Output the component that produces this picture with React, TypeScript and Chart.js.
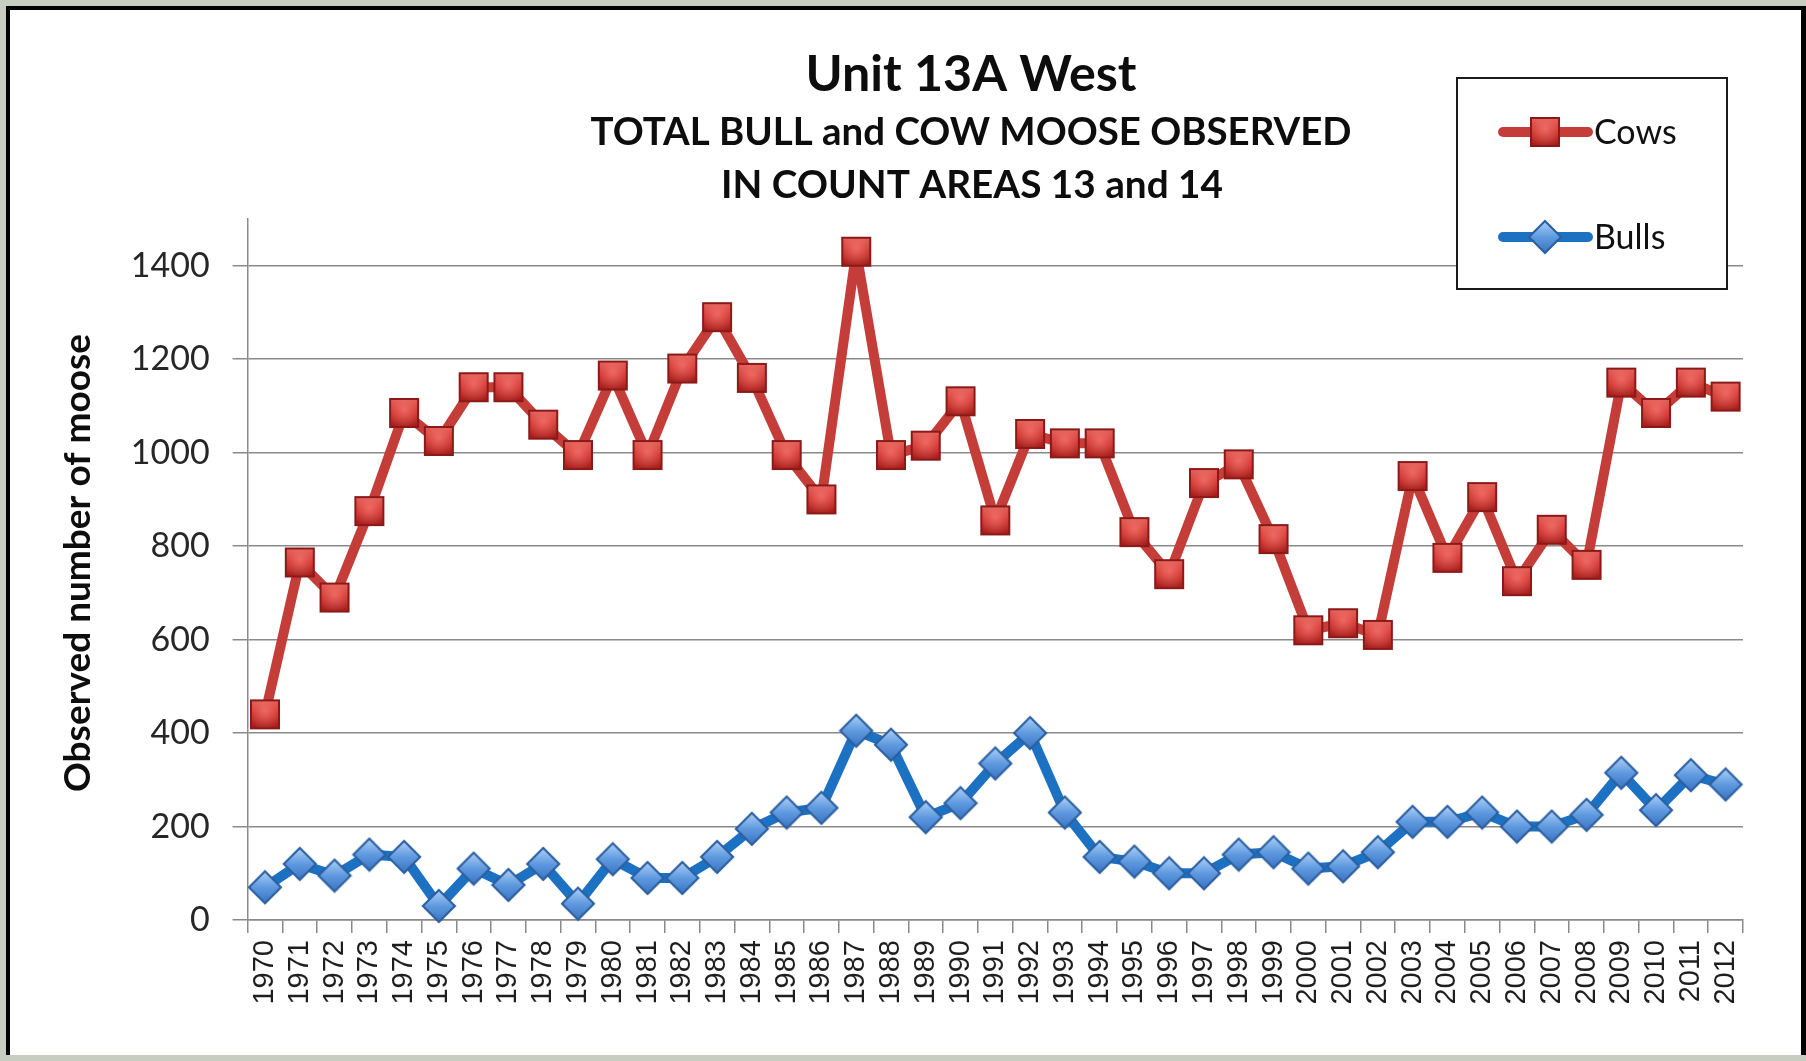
import React, { useEffect, useRef } from "react";
import { Chart, registerables } from "chart.js";

Chart.register(...registerables);

const YEARS = [
  "1970","1971","1972","1973","1974","1975","1976","1977","1978","1979",
  "1980","1981","1982","1983","1984","1985","1986","1987","1988","1989",
  "1990","1991","1992","1993","1994","1995","1996","1997","1998","1999",
  "2000","2001","2002","2003","2004","2005","2006","2007","2008","2009",
  "2010","2011","2012",
];

const COWS = [
  440, 765, 690, 875, 1085, 1025, 1140, 1140, 1060, 995,
  1165, 995, 1180, 1290, 1160, 995, 900, 1430, 995, 1015,
  1110, 855, 1040, 1020, 1020, 830, 740, 935, 975, 815,
  620, 635, 610, 950, 775, 905, 725, 835, 760, 1150,
  1085, 1150, 1120,
];

const BULLS = [
  70, 120, 95, 140, 135, 30, 110, 75, 120, 35,
  130, 90, 90, 135, 195, 230, 240, 405, 375, 220,
  250, 335, 400, 230, 135, 125, 100, 100, 140, 145,
  110, 115, 145, 210, 210, 230, 200, 200, 225, 315,
  235, 310, 290,
];

const Y_TICKS = [0, 200, 400, 600, 800, 1000, 1200, 1400];

const TITLE = "Unit 13A West";
const SUBTITLE_1 = "TOTAL BULL and COW MOOSE OBSERVED";
const SUBTITLE_2 = "IN COUNT AREAS 13 and 14";
const Y_TITLE = "Observed number of moose";
const SERIES_NAMES = ["Cows", "Bulls"];

function makeSquare(): HTMLCanvasElement {
  const s = 32;
  const c = document.createElement("canvas");
  c.width = s;
  c.height = s;
  const g = c.getContext("2d")!;
  g.fillStyle = "#8a1a18";
  g.fillRect(1, 1, s - 2, s - 2);
  const grad = g.createLinearGradient(0, 3, 0, s - 3);
  grad.addColorStop(0, "#e4605a");
  grad.addColorStop(0.45, "#d2332f");
  grad.addColorStop(1, "#a51d1b");
  g.fillStyle = grad;
  g.fillRect(3, 3, s - 6, s - 6);
  const rg = g.createRadialGradient(s / 2, s / 2 - 3, 1, s / 2, s / 2, s / 2);
  rg.addColorStop(0, "rgba(255,140,130,0.55)");
  rg.addColorStop(1, "rgba(255,140,130,0)");
  g.fillStyle = rg;
  g.fillRect(3, 3, s - 6, s - 6);
  return c;
}

function makeDiamond(): HTMLCanvasElement {
  const s = 36;
  const c = document.createElement("canvas");
  c.width = s;
  c.height = s;
  const g = c.getContext("2d")!;
  const h = s / 2;
  g.beginPath();
  g.moveTo(h, 0.5);
  g.lineTo(s - 0.5, h);
  g.lineTo(h, s - 0.5);
  g.lineTo(0.5, h);
  g.closePath();
  g.fillStyle = "#2b5f9f";
  g.fill();
  const d = 3;
  g.beginPath();
  g.moveTo(h, 0.5 + d);
  g.lineTo(s - 0.5 - d, h);
  g.lineTo(h, s - 0.5 - d);
  g.lineTo(0.5 + d, h);
  g.closePath();
  const grad = g.createLinearGradient(0, d, 0, s - d);
  grad.addColorStop(0, "#a9cdf5");
  grad.addColorStop(0.5, "#5f9ae0");
  grad.addColorStop(1, "#3c76c4");
  g.fillStyle = grad;
  g.fill();
  return c;
}

function fitText(
  ctx: CanvasRenderingContext2D,
  text: string,
  weight: string,
  family: string,
  targetWidth: number,
  cx: number,
  cy: number
) {
  ctx.font = `${weight} 100px ${family}`;
  const w = ctx.measureText(text).width;
  const size = (100 * targetWidth) / w;
  ctx.font = `${weight} ${size.toFixed(2)}px ${family}`;
  ctx.textAlign = "center";
  ctx.textBaseline = "middle";
  ctx.fillText(text, cx, cy);
}

export default function App() {
  const ref = useRef<HTMLCanvasElement | null>(null);

  useEffect(() => {
    if (!ref.current) return;
    const square = makeSquare();
    const diamond = makeDiamond();
    const COW_COLOR = "#c43d38";
    const BULL_COLOR = "#1d71c2";

    const overlay = {
      id: "overlay",
      afterDraw(chart: any) {
        const ctx: CanvasRenderingContext2D = chart.ctx;
        ctx.save();
        ctx.fillStyle = "#0d0d0d";
        fitText(ctx, TITLE, "bold", "Lato", 331, 971, 75);
        fitText(ctx, SUBTITLE_1, "bold", "Lato", 761, 971, 133);
        fitText(ctx, SUBTITLE_2, "bold", "Lato", 502, 972, 186);

        ctx.save();
        ctx.translate(78, 563);
        ctx.rotate(-Math.PI / 2);
        fitText(ctx, Y_TITLE, "bold", "Lato", 458, 0, 0);
        ctx.restore();

        // legend box
        const bx = 1457, by = 78, bw = 270, bh = 211;
        ctx.fillStyle = "#ffffff";
        ctx.fillRect(bx, by, bw, bh);
        ctx.strokeStyle = "#1a1a1a";
        ctx.lineWidth = 2;
        ctx.strokeRect(bx, by, bw, bh);
        const rows = [
          { y: 132, color: COW_COLOR, img: square, name: SERIES_NAMES[0] },
          { y: 237, color: BULL_COLOR, img: diamond, name: SERIES_NAMES[1] },
        ];
        rows.forEach((r) => {
          ctx.strokeStyle = r.color;
          ctx.lineWidth = 10;
          ctx.lineCap = "round";
          ctx.beginPath();
          ctx.moveTo(1503, r.y);
          ctx.lineTo(1588, r.y);
          ctx.stroke();
          ctx.drawImage(r.img, 1545 - r.img.width / 2, r.y - r.img.height / 2);
          ctx.fillStyle = "#111111";
          ctx.font = "34px Lato";
          ctx.textAlign = "left";
          ctx.textBaseline = "middle";
          ctx.fillText(r.name, 1594, r.y + 1);
        });
        ctx.restore();
      },
    };

    const chart = new Chart(ref.current, {
      type: "line",
      data: {
        labels: YEARS,
        datasets: [
          {
            label: SERIES_NAMES[0],
            data: COWS,
            borderColor: COW_COLOR,
            borderWidth: 10,
            borderJoinStyle: "round",
            borderCapStyle: "round",
            pointStyle: square as any,
            pointRadius: 15,
            tension: 0,
            clip: false as any,
          },
          {
            label: SERIES_NAMES[1],
            data: BULLS,
            borderColor: BULL_COLOR,
            borderWidth: 10,
            borderJoinStyle: "round",
            borderCapStyle: "round",
            pointStyle: diamond as any,
            pointRadius: 15,
            tension: 0,
            clip: false as any,
          },
        ],
      },
      options: {
        animation: false,
        responsive: true,
        maintainAspectRatio: false,
        layout: { padding: { left: 0, top: 219, right: 63, bottom: 41 } },
        plugins: {
          legend: { display: false },
          title: { display: false },
          tooltip: { enabled: false },
        },
        scales: {
          x: {
            type: "category",
            offset: true,
            afterFit: (s: any) => {
              s.height = 100;
            },
            grid: {
              offset: true,
              drawOnChartArea: false,
              drawTicks: true,
              tickLength: 13,
              color: "#8a8a8a",
              lineWidth: 1.5,
            },
            border: { color: "#8a8a8a", width: 1.5 },
            ticks: {
              autoSkip: false,
              minRotation: 90,
              maxRotation: 90,
              padding: 7,
              color: "#1e1e1e",
              font: { family: "'Liberation Sans', Arial, sans-serif", size: 29 },
            },
          },
          y: {
            min: 0,
            max: 1500,
            afterFit: (s: any) => {
              s.width = 247.6;
            },
            afterBuildTicks: (s: any) => {
              s.ticks = Y_TICKS.map((v) => ({ value: v }));
            },
            grid: {
              color: "#8a8a8a",
              lineWidth: 1.5,
              drawTicks: true,
              tickLength: 15,
            },
            border: { color: "#8a8a8a", width: 1.5 },
            ticks: {
              padding: 23,
              color: "#262626",
              font: { family: "Lato, sans-serif", size: 34 },
              callback: (v: any) => String(v),
            },
          },
        },
      },
      plugins: [overlay],
    });
    return () => chart.destroy();
  }, []);

  return (
    <div
      style={{
        position: "fixed",
        left: 0,
        top: 0,
        width: 1806,
        height: 1061,
        background: "#c7cdc1",
        overflow: "hidden",
      }}
    >
      <div
        style={{
          position: "absolute",
          left: 6,
          top: 6,
          width: 1800,
          height: 1049,
          boxSizing: "border-box",
          background: "#ffffff",
          borderTop: "4px solid #000",
          borderLeft: "4px solid #000",
          borderRight: "5px solid #000",
        }}
      />
      <div style={{ position: "absolute", left: 0, top: 0, width: 1806, height: 1061 }}>
        <canvas ref={ref} />
      </div>
    </div>
  );
}
